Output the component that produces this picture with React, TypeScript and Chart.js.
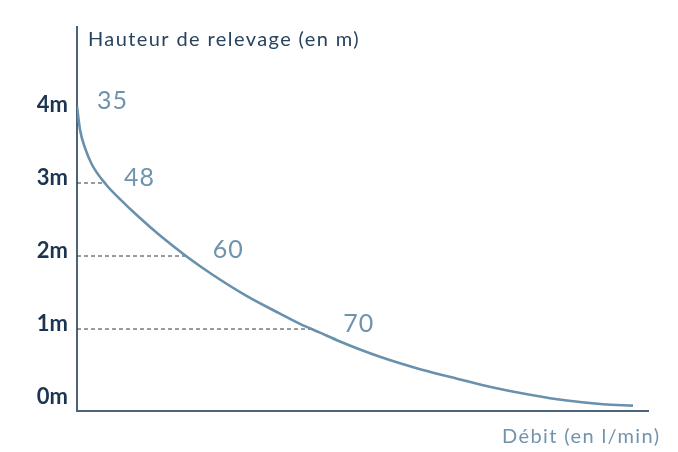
import React, { useEffect, useRef } from "react";
import { Chart, registerables } from "chart.js";

Chart.register(...registerables);

// Curve: position along the (unscaled) flow axis, and lift height in metres
const curveX = [0, 0.53, 1.4, 2.63, 5.08, 7.53, 11.03, 14.54, 19.26, 23.82, 29.77, 35.55, 39.05, 42.56, 46.06, 49.56, 53.06, 56.57, 60.07, 66.55, 72.85, 79.33, 85.81, 92.12, 97.37];
const curveY = [4.05, 3.73, 3.48, 3.25, 2.98, 2.78, 2.52, 2.28, 1.99, 1.74, 1.45, 1.21, 1.07, 0.95, 0.83, 0.72, 0.62, 0.53, 0.45, 0.32, 0.2, 0.1, 0.02, -0.03, -0.05];

// Marked operating points (flow in l/min)
const flowLabels = ["35", "48", "60", "70"];
const markerX = [0, 4.9, 19.2, 41.2];
const markerY = [4.05, 3, 2, 1];

// Y ticks (metres)
const yTicks = [0, 1, 2, 3, 4];

const yTitle = "Hauteur de relevage (en m)";
const xTitle = "Débit (en l/min)";

// label offsets in px relative to marker (style)
const labelDx = [20, 19, 26, 31];
const labelDy = [-5, -5, -6, -5];

const FONT = "Lato, 'Noto Sans', sans-serif";

export default function App() {
  const ref = useRef<HTMLCanvasElement | null>(null);

  useEffect(() => {
    if (!ref.current) return;
    const curve = curveX.map((x, i) => ({ x, y: curveY[i] }));
    const guides = markerX
      .map((x, i) => ({ x, y: markerY[i] }))
      .filter((p) => p.x > 0)
      .map((p) => ({
        type: "line" as const,
        data: [
          { x: 0, y: p.y },
          { x: p.x, y: p.y },
        ],
        borderColor: "#33383e",
        borderWidth: 1,
        borderDash: [4, 3],
        pointRadius: 0,
        showLine: true,
      }));

    const textPlugin = {
      id: "texts",
      afterDraw(chart: any) {
        const ctx = chart.ctx;
        const xs = chart.scales.x;
        const ys = chart.scales.y;
        const area = chart.chartArea;
        ctx.save();
        // flow labels
        ctx.font = `400 25px ${FONT}`;
        (ctx as any).letterSpacing = "1px";
        ctx.fillStyle = "#6e93ad";
        ctx.textAlign = "left";
        ctx.textBaseline = "middle";
        flowLabels.forEach((t, i) => {
          const px = xs.getPixelForValue(markerX[i]);
          const py = ys.getPixelForValue(markerY[i]);
          ctx.fillText(t, px + labelDx[i], py + labelDy[i]);
        });
        // y title
        ctx.font = `400 20px ${FONT}`;
        (ctx as any).letterSpacing = "1.4px";
        ctx.fillStyle = "#27435f";
        ctx.fillText(yTitle, area.left + 11, 40);
        // x title
        ctx.fillStyle = "#7193ad";
        ctx.fillText(xTitle, 502, 437);
        ctx.restore();
      },
    };

    const chart = new Chart(ref.current, {
      type: "scatter",
      data: {
        datasets: [
          {
            type: "line",
            data: curve,
            borderColor: "#6990ac",
            borderWidth: 2.6,
            pointRadius: 0,
            cubicInterpolationMode: "monotone",
            showLine: true,
          } as any,
          ...(guides as any[]),
        ],
      },
      options: {
        animation: false,
        responsive: false,
        maintainAspectRatio: false,
        layout: { padding: { top: 27, right: 30, left: 0, bottom: 0 } },
        plugins: {
          legend: { display: false },
          tooltip: { enabled: false },
          title: { display: false },
        },
        scales: {
          x: {
            type: "linear",
            min: 0,
            max: 100,
            grid: { display: false, drawTicks: false },
            ticks: { display: false },
            border: { display: true, color: "#4d6378", width: 2 },
            afterFit(scale: any) {
              scale.height = 41;
            },
          },
          y: {
            type: "linear",
            min: -0.123,
            max: 5.137,
            grid: { display: false, drawTicks: false },
            border: { display: true, color: "#4d6378", width: 2 },
            afterBuildTicks(scale: any) {
              scale.ticks = yTicks.map((v) => ({ value: v }));
            },
            ticks: {
              padding: 9,
              labelOffset: -5,
              color: "#1b3450",
              font: { family: FONT, size: 22, weight: "bold" },
              callback: (v: any) => `${v}m`,
            },
            afterFit(scale: any) {
              scale.width = 77;
            },
          },
        },
      },
      plugins: [textPlugin],
    } as any);
    return () => chart.destroy();
  }, []);

  return (
    <div style={{ position: "fixed", left: 0, top: 0, width: 678, height: 452, background: "#fff" }}>
      <canvas ref={ref} width={678} height={452} style={{ width: 678, height: 452 }} />
    </div>
  );
}
